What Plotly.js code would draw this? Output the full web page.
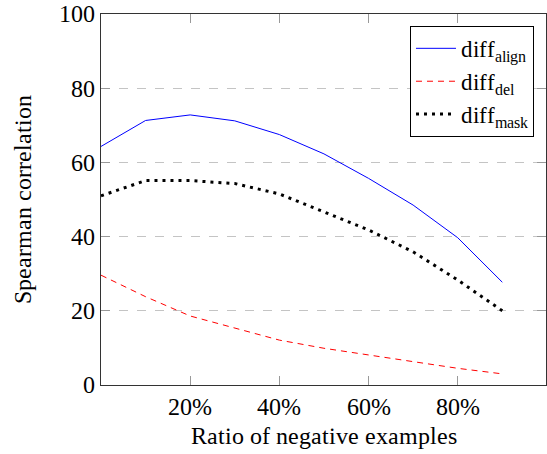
<!DOCTYPE html>
<html>
<head>
<meta charset="utf-8">
<script src="https://cdn.plot.ly/plotly-3.0.1.min.js"></script>
<style>
@font-face { font-family: 'LSerif'; src: local('Liberation Serif'), local('LiberationSerif'), local('LiberationSerif-Regular'); }
html,body{margin:0;padding:0;background:#fff;}
#chart{position:absolute;left:0;top:0;width:547px;height:454px;z-index:1;}
#fontwarm{position:absolute;left:120px;top:200px;z-index:0;font-family:'LSerif','Liberation Serif';font-size:24px;color:#fff;}
</style>
</head>
<body>
<div id="fontwarm">diff align del mask 0123456789% Ratio of negative examples Spearman correlation</div>
<div id="chart"></div>
<script>
const ratios = [0, 0.1, 0.2, 0.3, 0.4, 0.5, 0.6, 0.7, 0.8, 0.9];
const diffAlign = [64.3, 71.3, 72.8, 71.2, 67.5, 62.3, 55.7, 48.5, 39.7, 27.7];
const diffDel = [29.6, 23.8, 18.6, 15.4, 12.1, 9.9, 8.1, 6.3, 4.5, 3.0];
const diffMask = [51.0, 55.1, 55.1, 54.3, 51.5, 46.7, 41.8, 35.9, 28.3, 20.0];
const xTickVals = [0.2, 0.4, 0.6, 0.8];
const xTickText = ['20%', '40%', '60%', '80%'];
const yTickVals = [0, 20, 40, 60, 80, 100];

const serif = 'LSerif, Liberation Serif, serif';
const traces = [
  {x: ratios, y: diffAlign, name: 'diff<sub>align</sub>', mode: 'lines', line: {color: '#0000ff', width: 1}},
  {x: ratios, y: diffDel, name: 'diff<sub>del</sub>', mode: 'lines', line: {color: '#ff0000', width: 1, dash: '6px,5px'}},
  {x: ratios, y: diffMask, name: 'diff<sub>mask</sub>', mode: 'lines', line: {color: '#000000', width: 3, dash: '3px,5px'}}
];
const layout = {
  width: 547, height: 454,
  margin: {l: 101, r: 1, t: 14, b: 69},
  paper_bgcolor: '#fff', plot_bgcolor: '#fff',
  font: {family: serif, size: 24, color: '#000'},
  showlegend: true,
  legend: {
    x: 0.973, y: 0.968, xanchor: 'right', yanchor: 'top',
    bordercolor: '#000', borderwidth: 1, bgcolor: '#fff',
    font: {family: serif, size: 23},
    itemwidth: 40, tracegroupgap: 0
  },
  xaxis: {
    range: [0, 0.998], tickvals: xTickVals, ticktext: xTickText,
    ticks: 'inside', ticklen: 9, tickcolor: '#999', mirror: 'ticks',
    showline: true, linecolor: '#333', linewidth: 1,
    showgrid: false, zeroline: false,
    tickfont: {family: serif, size: 24},
    title: {text: 'Ratio of negative examples', font: {family: serif, size: 24}, standoff: 8}
  },
  yaxis: {
    range: [0, 100], tickvals: yTickVals,
    ticks: 'inside', ticklen: 9, tickcolor: '#999', mirror: 'ticks',
    showline: true, linecolor: '#333', linewidth: 1,
    showgrid: true, gridcolor: '#c4c4c4', griddash: 'dash', gridwidth: 1,
    zeroline: false,
    tickfont: {family: serif, size: 24},
    title: {text: 'Spearman correlation', font: {family: serif, size: 24}, standoff: 20}
  }
};
function draw() {
  Plotly.newPlot('chart', traces, layout, {displayModeBar: false});
}
function go() {
  requestAnimationFrame(function () { requestAnimationFrame(draw); });
}
if (document.fonts && document.fonts.load) {
  Promise.all([
    document.fonts.load('24px LSerif'),
    document.fonts.ready
  ]).then(go, go);
} else {
  go();
}
</script>
</body>
</html>
